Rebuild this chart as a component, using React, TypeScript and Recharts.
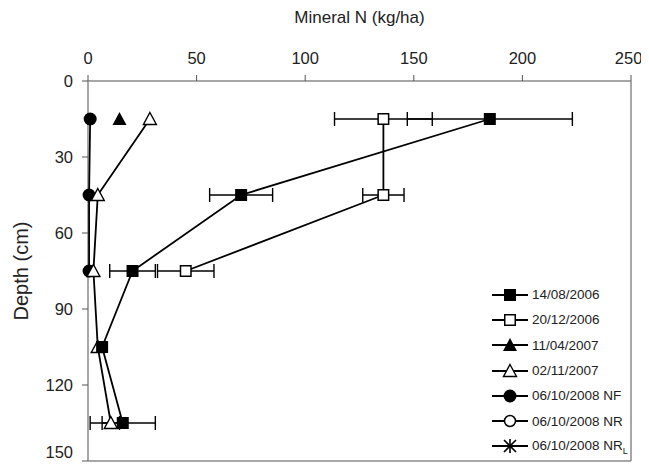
import React from 'react';
import { ScatterChart, Scatter, XAxis, YAxis, ErrorBar, ReferenceLine } from 'recharts';

// ---- data ----
const depths = [15, 45, 75, 105, 135];
const aug2006 = [185, 70.5, 20.5, 6.5, 16];
const aug2006Err = [38, 14.5, 10.5, 0, 15];
const dec2006 = [136, 136, 45];
const dec2006Err = [22.5, 9.5, 13];
const apr2007 = [14.5];
const apr2007Err = [0];
const nov2007 = [28.5, 4.5, 2.5, 4.5, 10.5];
const nov2007Err = [0, 0, 0, 0, 4];
const oct2008NF = [1, 0.5, 0.5];
const oct2008NFErr = [0, 0, 0];
const xTicks = [0, 50, 100, 150, 200, 250];
const yTicks = [0, 30, 60, 90, 120, 150];
const legendLabels = ['14/08/2006', '20/12/2006', '11/04/2007', '02/11/2007', '06/10/2008 NF', '06/10/2008 NR', '06/10/2008 NR'];
const legendKinds = ['sqF', 'sqO', 'triF', 'triO', 'cirF', 'cirO', 'star'];

const build = (vals: number[], errs: number[]) =>
  vals.map((v, i) => ({ x: v, y: depths[i], err: errs[i] }));

const FONT = '"Liberation Sans", Arial, sans-serif';
const AXIS = '#8a8a8a';

function Mark({ cx, cy, kind }: { cx: number; cy: number; kind: string }) {
  const s = 6;
  switch (kind) {
    case 'sqF':
      return <rect x={cx - s} y={cy - s} width={2 * s} height={2 * s} fill="#000" />;
    case 'sqO':
      return <rect x={cx - s + 0.75} y={cy - s + 0.75} width={2 * s - 1.5} height={2 * s - 1.5} fill="#fff" stroke="#000" strokeWidth={1.5} />;
    case 'triF':
      return <polygon points={`${cx},${cy - 7} ${cx + 7},${cy + 6} ${cx - 7},${cy + 6}`} fill="#000" />;
    case 'triO':
      return <polygon points={`${cx},${cy - 6.5} ${cx + 6.5},${cy + 5.5} ${cx - 6.5},${cy + 5.5}`} fill="#fff" stroke="#000" strokeWidth={1.4} />;
    case 'cirF':
      return <circle cx={cx} cy={cy} r={6.5} fill="#000" />;
    case 'cirO':
      return <circle cx={cx} cy={cy} r={5.5} fill="#fff" stroke="#000" strokeWidth={1.5} />;
    case 'star':
      return (
        <g stroke="#000" strokeWidth={1.6}>
          <line x1={cx} y1={cy - 7} x2={cx} y2={cy + 7} />
          <line x1={cx - 6} y1={cy - 6} x2={cx + 6} y2={cy + 6} />
          <line x1={cx - 6} y1={cy + 6} x2={cx + 6} y2={cy - 6} />
        </g>
      );
    default:
      return null;
  }
}

const shapeOf = (kind: string) => (p: any) => <Mark cx={p.cx} cy={p.cy} kind={kind} />;

function LegendBox() {
  return (
    <div style={{ position: 'absolute', left: 483, top: 274, fontFamily: FONT, fontSize: 13.5, color: '#222' }}>
      {legendLabels.map((lab, i) => (
        <div key={i} style={{ display: 'flex', alignItems: 'center', height: 25.3 }}>
          <svg width={38} height={18} style={{ display: 'block' }}>
            <line x1={1} y1={9} x2={37} y2={9} stroke="#000" strokeWidth={1.8} />
            <Mark cx={19} cy={9} kind={legendKinds[i]} />
          </svg>
          <span style={{ marginLeft: 3, whiteSpace: 'nowrap' }}>
            {lab}
            {legendKinds[i] === 'star' ? <sub style={{ fontSize: 9 }}>L</sub> : null}
          </span>
        </div>
      ))}
    </div>
  );
}

const lineStyle = { stroke: '#000', strokeWidth: 1.8 };

export default function App() {
  return (
    <div style={{ position: 'relative', width: 633, height: 454 }}>
      <style>{'html,body{overflow:hidden}.recharts-surface{overflow:visible}'}</style>
      <ScatterChart width={633} height={454} margin={{ top: 43, right: 10, bottom: 1, left: 0 }}>
        <XAxis
          type="number"
          dataKey="x"
          orientation="top"
          domain={[0, 250]}
          ticks={xTicks}
          height={30}
          axisLine={{ stroke: AXIS, strokeWidth: 1.5 }}
          tickLine={{ stroke: '#555' }}
          tickSize={6}
          tickMargin={11}
          tick={{ fill: '#222', fontSize: 16.5, fontFamily: FONT }}
          label={{ value: 'Mineral N (kg/ha)', position: 'top', offset: 28, fill: '#222', fontSize: 17, fontFamily: FONT }}
        />
        <YAxis
          type="number"
          dataKey="y"
          reversed
          domain={[0, 150]}
          ticks={yTicks}
          width={80}
          axisLine={{ stroke: AXIS, strokeWidth: 1.5 }}
          tickLine={{ stroke: '#555' }}
          tickSize={6}
          tickMargin={9}
          tick={{ fill: '#222', fontSize: 16.5, fontFamily: FONT }}
          label={{ value: 'Depth (cm)', angle: -90, position: 'insideLeft', offset: 13, fill: '#222', fontSize: 20, fontFamily: FONT, style: { textAnchor: 'middle' } }}
        />
        <ReferenceLine x={250} stroke={AXIS} strokeWidth={1.5} />
        <ReferenceLine y={150} stroke={AXIS} strokeWidth={1.5} />
        <Scatter data={build(oct2008NF, oct2008NFErr)} line={lineStyle} shape={shapeOf('cirF')} isAnimationActive={false} />
        <Scatter data={build(nov2007, nov2007Err)} line={lineStyle} shape={shapeOf('triO')} isAnimationActive={false}>
          <ErrorBar dataKey="err" direction="x" width={7} stroke="#000" strokeWidth={1.4} />
        </Scatter>
        <Scatter data={build(apr2007, apr2007Err)} shape={shapeOf('triF')} isAnimationActive={false} />
        <Scatter data={build(dec2006, dec2006Err)} line={lineStyle} shape={shapeOf('sqO')} isAnimationActive={false}>
          <ErrorBar dataKey="err" direction="x" width={7} stroke="#000" strokeWidth={1.4} />
        </Scatter>
        <Scatter data={build(aug2006, aug2006Err)} line={lineStyle} shape={shapeOf('sqF')} isAnimationActive={false}>
          <ErrorBar dataKey="err" direction="x" width={7} stroke="#000" strokeWidth={1.4} />
        </Scatter>
      </ScatterChart>
      <LegendBox />
    </div>
  );
}
